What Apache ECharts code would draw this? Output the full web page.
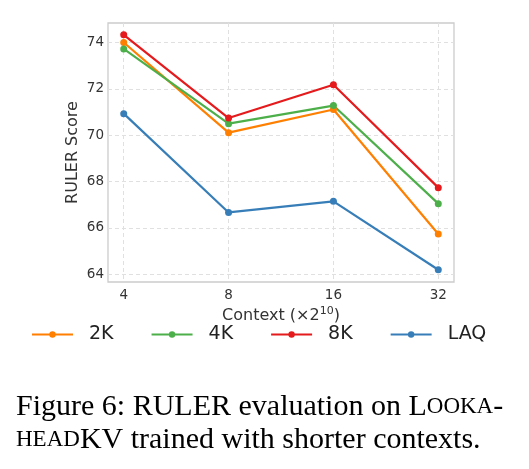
<!DOCTYPE html>
<html>
<head>
<meta charset="utf-8">
<script src="https://cdn.jsdelivr.net/npm/echarts@6/dist/echarts.min.js"></script>
<style>
  html, body { margin: 0; padding: 0; background: #fff; }
  #chart { width: 529px; height: 469px; }
</style>
</head>
<body>
<div id="chart"></div>
<script>
// RULER score vs context length, one line per training context
const contexts = ['4', '8', '16', '32']
const seriesNames = ['2K', '4K', '8K', 'LAQ']
const score2K = [74.0, 70.11, 71.11, 65.74]
const score4K = [73.72, 70.5, 71.28, 67.05]
const score8K = [74.33, 70.74, 72.18, 67.74]
const scoreLAQ = [70.93, 66.67, 67.15, 64.2]
const yTicks = [64, 66, 68, 70, 72, 74]

const colors = ['#ff7f00', '#4daf4a', '#e41a1c', '#377eb8']
const allScores = [score2K, score4K, score8K, scoreLAQ]

const chart = echarts.init(document.getElementById('chart'))
const font = 'DejaVu Sans'

chart.setOption({
  animation: false,
  backgroundColor: '#fff',
  textStyle: { fontFamily: font },
  grid: {
    left: 108, top: 23, width: 346, height: 259,
    show: true, borderColor: '#cccccc', borderWidth: 1.3,
  },
  xAxis: {
    type: 'value',
    min: -0.15, max: 3.15,
    axisLine: { show: false },
    axisTick: { show: false, customValues: [0, 1, 2, 3] },
    axisLabel: {
      customValues: [0, 1, 2, 3],
      formatter: (v) => contexts[Math.round(v)],
      color: '#333', fontSize: 13.5, margin: 6,
    },
    splitLine: { show: true, lineStyle: { type: [4, 3], color: '#e0e0e0', width: 1 } },
    name: 'Context (×2{sup|10})',
    nameLocation: 'middle',
    nameMoveOverlap: false,
    nameGap: 24,
    nameTextStyle: {
      color: '#333', fontSize: 16,
      rich: { sup: { fontSize: 11, verticalAlign: 'top', padding: [0, 0, 9, 0], color: '#333' } },
    },
  },
  yAxis: {
    type: 'value',
    min: 63.67, max: 74.84,
    axisLine: { show: false },
    axisTick: { show: false, customValues: yTicks },
    axisLabel: { customValues: yTicks, color: '#333', fontSize: 13.5, margin: 4 },
    splitLine: { show: true, lineStyle: { type: [4, 3], color: '#e0e0e0', width: 1 } },
    name: 'RULER Score',
    nameLocation: 'middle',
    nameMoveOverlap: false,
    nameGap: 27,
    nameTextStyle: { color: '#333', fontSize: 16 },
  },
  legend: {
    data: seriesNames,
    left: 31, top: 325, padding: 0,
    itemWidth: 41, itemHeight: 8,
    itemGap: 37,
    textStyle: { fontSize: 19, color: '#222', padding: [0, 0, 0, 11] },
  },
  series: seriesNames.map((name, i) => ({
    name,
    type: 'line',
    data: allScores[i].map((v, j) => [j, v]),
    color: colors[i],
    symbol: 'circle',
    symbolSize: 7,
    lineStyle: { width: 2.2 },
  })),
  graphic: [
    {
      type: 'text', left: 16, top: 392,
      style: {
        text: 'Figure 6: RULER evaluation on L{sc|OOKA}-',
        fontFamily: 'Liberation Serif', fontSize: 30, fill: '#000',
        rich: { sc: { fontFamily: 'Liberation Serif', fontSize: 23, fill: '#000' } },
      },
    },
    {
      type: 'text', left: 16, top: 425,
      style: {
        text: '{sc|HEAD}KV trained with shorter contexts.',
        fontFamily: 'Liberation Serif', fontSize: 30, fill: '#000',
        rich: { sc: { fontFamily: 'Liberation Serif', fontSize: 23, fill: '#000' } },
      },
    },
  ],
})
</script>
</body>
</html>
